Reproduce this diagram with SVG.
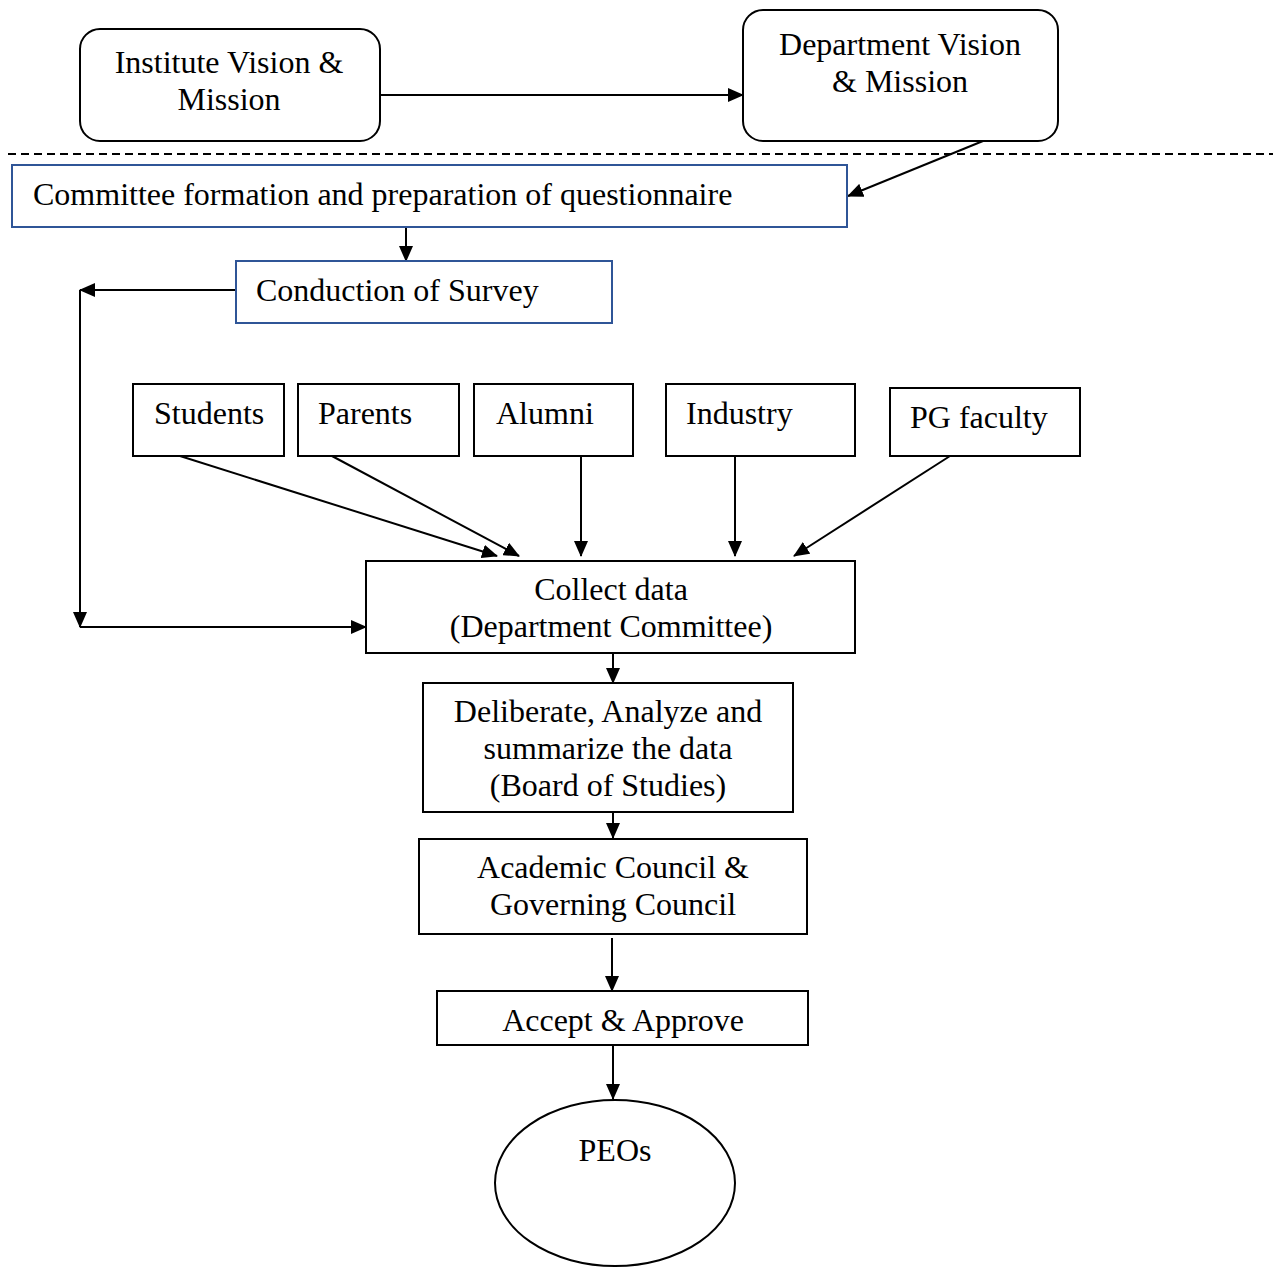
<svg xmlns="http://www.w3.org/2000/svg" width="1273" height="1267" viewBox="0 0 1273 1267">
<defs>
<style>
text{font-family:"Liberation Serif","Times New Roman",serif;font-size:32px;fill:#000}
.c{text-anchor:middle}
.b{fill:#fff;stroke:#000;stroke-width:2}
.bl{fill:#fff;stroke:#2f5597;stroke-width:2}
.ln{fill:none;stroke:#000;stroke-width:2}
</style>
<marker id="ah" markerWidth="16" markerHeight="14" refX="15" refY="7" orient="auto" markerUnits="userSpaceOnUse">
<path d="M0,0 L16,7 L0,14 z" fill="#000"/>
</marker>
</defs>
<rect width="1273" height="1267" fill="#fff"/>
<line x1="8" y1="154" x2="1273" y2="154" stroke="#000" stroke-width="2" stroke-dasharray="8,5"/>
<g id="connectors">
<line class="ln" x1="380" y1="95" x2="743" y2="95" marker-end="url(#ah)"/>
<line class="ln" x1="983" y1="141" x2="848" y2="196" marker-end="url(#ah)"/>
<line class="ln" x1="406" y1="227" x2="406" y2="261" marker-end="url(#ah)"/>
<line class="ln" x1="236" y1="290" x2="80" y2="290" marker-end="url(#ah)"/>
<line class="ln" x1="80" y1="290" x2="80" y2="627" marker-end="url(#ah)"/>
<line class="ln" x1="80" y1="627" x2="366" y2="627" marker-end="url(#ah)"/>
<line class="ln" x1="180" y1="456" x2="497" y2="556" marker-end="url(#ah)"/>
<line class="ln" x1="332" y1="456" x2="519" y2="556" marker-end="url(#ah)"/>
<line class="ln" x1="581" y1="456" x2="581" y2="556" marker-end="url(#ah)"/>
<line class="ln" x1="735" y1="456" x2="735" y2="556" marker-end="url(#ah)"/>
<line class="ln" x1="950" y1="456" x2="794" y2="556" marker-end="url(#ah)"/>
<line class="ln" x1="613" y1="653" x2="613" y2="683" marker-end="url(#ah)"/>
<line class="ln" x1="613" y1="812" x2="613" y2="838" marker-end="url(#ah)"/>
<line class="ln" x1="612" y1="938" x2="612" y2="991" marker-end="url(#ah)"/>
<line class="ln" x1="613" y1="1045" x2="613" y2="1099" marker-end="url(#ah)"/>
</g>
<g id="institute">
<rect class="b" x="80" y="29" width="300" height="112" rx="20"/>
<text class="c" x="229" y="73">Institute Vision &amp;</text>
<text class="c" x="229" y="110">Mission</text>
</g>
<g id="department">
<rect class="b" x="743" y="10" width="315" height="131" rx="20"/>
<text class="c" x="900" y="55">Department Vision</text>
<text class="c" x="900" y="92">&amp; Mission</text>
</g>
<g id="committee">
<rect class="bl" x="12" y="165" width="835" height="62"/>
<text x="33" y="205">Committee formation and preparation of questionnaire</text>
</g>
<g id="survey">
<rect class="bl" x="236" y="261" width="376" height="62"/>
<text x="256" y="301">Conduction of Survey</text>
</g>
<g id="students">
<rect class="b" x="133" y="384" width="151" height="72"/>
<text x="154" y="424">Students</text>
</g>
<g id="parents">
<rect class="b" x="298" y="384" width="161" height="72"/>
<text x="318" y="424">Parents</text>
</g>
<g id="alumni">
<rect class="b" x="474" y="384" width="159" height="72"/>
<text x="496" y="424">Alumni</text>
</g>
<g id="industry">
<rect class="b" x="666" y="384" width="189" height="72"/>
<text x="686" y="424">Industry</text>
</g>
<g id="pgfaculty">
<rect class="b" x="890" y="388" width="190" height="68"/>
<text x="910" y="428">PG faculty</text>
</g>
<g id="collect">
<rect class="b" x="366" y="561" width="489" height="92"/>
<text class="c" x="611" y="600">Collect data</text>
<text class="c" x="611" y="637">(Department Committee)</text>
</g>
<g id="deliberate">
<rect class="b" x="423" y="683" width="370" height="129"/>
<text class="c" x="608" y="722">Deliberate, Analyze and</text>
<text class="c" x="608" y="759">summarize the data</text>
<text class="c" x="608" y="796">(Board of Studies)</text>
</g>
<g id="council">
<rect class="b" x="419" y="839" width="388" height="95"/>
<text class="c" x="613" y="878">Academic Council &amp;</text>
<text class="c" x="613" y="915">Governing Council</text>
</g>
<g id="approve">
<rect class="b" x="437" y="991" width="371" height="54"/>
<text class="c" x="623" y="1031">Accept &amp; Approve</text>
</g>
<g id="peos">
<ellipse class="b" cx="615" cy="1183" rx="120" ry="83"/>
<text class="c" x="615" y="1161">PEOs</text>
</g>
</svg>
